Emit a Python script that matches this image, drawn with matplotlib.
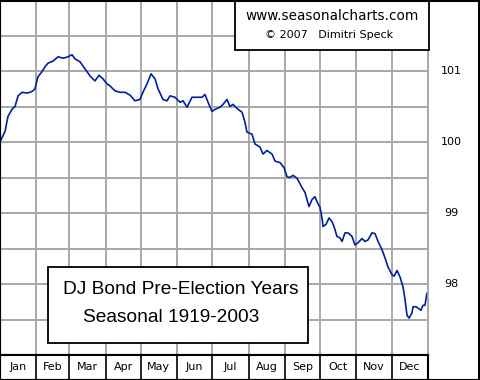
import numpy as np
import matplotlib
matplotlib.use("Agg")
import matplotlib.pyplot as plt
from matplotlib.patches import Rectangle
import matplotlib.transforms as mtransforms

# ---- data ----
days = [0, 4.3, 6.8, 10.2, 12.8, 15.4, 18.8, 23.0, 25.6, 28.1, 29.8, 32.4, 35.8, 38.4, 40.9,
        45.2, 49.5, 53.7, 58.0, 61.4, 64.0, 68.2, 72.5, 76.8, 81.0, 84.4, 87.8, 91.2, 93.8,
        98.1, 102.3, 106.6, 110.9, 115.1, 119.4, 121.9, 125.4, 128.8, 132.2, 134.7, 139.0,
        142.4, 145.0, 149.2, 153.5, 156.1, 159.5, 163.7, 168.0, 172.3, 174.8, 177.4, 180.8,
        183.4, 187.6, 190.2, 193.6, 196.1, 198.7, 203.0, 206.4, 208.9, 210.6, 214.9, 217.5,
        221.7, 224.3, 227.7, 232.0, 234.5, 238.8, 242.2, 244.8, 247.3, 249.9, 253.3, 257.5,
        260.1, 263.5, 266.1, 268.6, 270.3, 272.9, 274.6, 275.5, 278.0, 280.6, 283.1, 284.8,
        287.4, 289.9, 291.7, 294.2, 296.8, 300.2, 302.7, 305.3, 308.7, 311.3, 313.8, 317.2,
        319.8, 322.4, 325.8, 328.3, 330.9, 334.3, 336.0, 338.6, 341.1, 343.7, 345.4, 347.1,
        348.8, 351.3, 352.2, 354.8, 356.5, 359.0, 360.7, 362.4, 364.1]
values = [100.00, 100.15, 100.36, 100.46, 100.50, 100.65, 100.70, 100.69, 100.70, 100.72,
          100.75, 100.92, 100.99, 101.06, 101.11, 101.14, 101.20, 101.18, 101.20, 101.23,
          101.17, 101.13, 101.03, 100.93, 100.86, 100.94, 100.89, 100.82, 100.79, 100.72,
          100.70, 100.70, 100.66, 100.58, 100.60, 100.70, 100.82, 100.96, 100.89, 100.75,
          100.60, 100.58, 100.65, 100.63, 100.56, 100.58, 100.49, 100.63, 100.63, 100.63,
          100.67, 100.56, 100.43, 100.46, 100.49, 100.53, 100.60, 100.50, 100.53, 100.46,
          100.42, 100.28, 100.14, 100.11, 99.97, 99.93, 99.83, 99.88, 99.83, 99.73, 99.71,
          99.64, 99.51, 99.50, 99.53, 99.49, 99.36, 99.29, 99.09, 99.19, 99.23, 99.16, 99.08,
          98.93, 98.81, 98.84, 98.93, 98.88, 98.81, 98.67, 98.65, 98.60, 98.72, 98.72, 98.67,
          98.55, 98.58, 98.64, 98.60, 98.62, 98.72, 98.71, 98.60, 98.48, 98.37, 98.24, 98.13,
          98.11, 98.19, 98.10, 97.96, 97.78, 97.56, 97.52, 97.59, 97.68, 97.68, 97.66, 97.63,
          97.70, 97.70, 97.87]
months = ["Jan", "Feb", "Mar", "Apr", "May", "Jun", "Jul", "Aug", "Sep", "Oct", "Nov", "Dec"]
month_starts = [0, 31, 59, 90, 120, 151, 181, 212, 243, 273, 304, 334, 365]
y_labels = [98, 99, 100, 101]
title_lines = ["DJ Bond Pre-Election Years", "Seasonal 1919-2003"]
credit_lines = ["www.seasonalcharts.com", "\u00a9 2007   Dimitri Speck"]

W, H = 480, 380
def fx(px):
    return px / W
def fy(py):
    return 1 - py / H

fig = plt.figure(figsize=(4.8, 3.8), dpi=100)
fig.patch.set_facecolor("white")

# main plot area
ax = fig.add_axes([0, fy(355), fx(428), 355 / H])
ax.set_xlim(0, 365)
ax.set_ylim(97.0, 102.0)
ax.set_xticks(month_starts[1:-1])
ax.set_yticks(np.arange(97.5, 102.0, 0.5))
ax.tick_params(length=0, labelleft=False, labelbottom=False)
ax.grid(True, color="#a8a8a8", linewidth=1.4)
ax.set_axisbelow(True)
for s in ["left", "top", "bottom"]:
    ax.spines[s].set_color("black")
    ax.spines[s].set_linewidth(1.5)
ax.spines["right"].set_color("#a8a8a8")
ax.spines["right"].set_linewidth(1.4)

ax.plot(days, values, color="#0020a0", linewidth=1.2, solid_joinstyle="round")

# right side value labels
trans = mtransforms.blended_transform_factory(ax.transAxes, ax.transData)
for v in y_labels:
    ax.text(1 + 23 / 428, v, str(v), transform=trans, ha="center", va="center",
            fontsize=8, family="DejaVu Sans", clip_on=False)

# month strip
axm = fig.add_axes([0, fy(380), fx(428), 25 / H])
axm.set_xlim(0, 365)
axm.set_ylim(0, 1)
axm.set_xticks([])
axm.set_yticks([])
for s in axm.spines.values():
    s.set_color("black")
    s.set_linewidth(1.5)
for b in month_starts[1:-1]:
    axm.axvline(b, color="black", linewidth=1.2)
for i, m in enumerate(months):
    axm.text((month_starts[i] + month_starts[i + 1]) / 2, 0.5, m, ha="center", va="center",
             fontsize=8, family="DejaVu Sans")

# outer border
fig.patches.append(Rectangle((0.001, 0.001), 0.997, 0.997, transform=fig.transFigure,
                             fill=False, edgecolor="black", linewidth=1.5, zorder=5))

# credit box
fig.patches.append(Rectangle((fx(235), fy(50)), fx(429) - fx(235), 50 / H,
                             transform=fig.transFigure, facecolor="white",
                             edgecolor="black", linewidth=1.3, zorder=2))
fig.text(fx(332), fy(16), credit_lines[0], ha="center", va="center", fontsize=9.8,
         family="DejaVu Sans", zorder=3)
fig.text(fx(329), fy(35), credit_lines[1], ha="center", va="center", fontsize=8,
         family="DejaVu Sans", zorder=3)

# title box
fig.patches.append(Rectangle((fx(48), fy(343)), fx(308) - fx(48), (343 - 267) / H,
                             transform=fig.transFigure, facecolor="white",
                             edgecolor="black", linewidth=1.3, zorder=2))
fig.text(fx(63), fy(290), title_lines[0], ha="left", va="center", fontsize=13.8,
         family="Liberation Sans", zorder=3)
fig.text(fx(83), fy(318), title_lines[1], ha="left", va="center", fontsize=13.8,
         family="Liberation Sans", zorder=3)

fig.savefig("out.png", dpi=100, facecolor="white")
